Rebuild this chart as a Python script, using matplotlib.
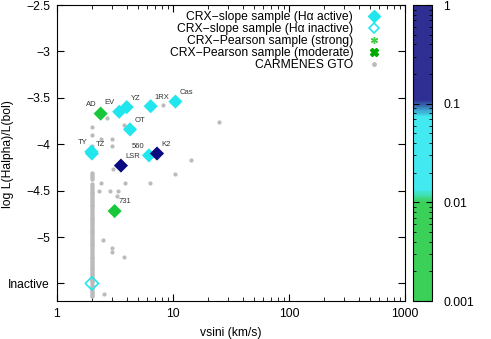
import numpy as np
import matplotlib
matplotlib.use('Agg')
import matplotlib.pyplot as plt
from matplotlib.colors import LinearSegmentedColormap, LogNorm
from matplotlib.lines import Line2D
from matplotlib.cm import ScalarMappable

plt.rcParams['font.family'] = ['Liberation Sans', 'DejaVu Sans']
plt.rcParams['font.size'] = 8.7

# CRX sample stars (active)
star_names = ['AD', 'EV', 'YZ', '1RX', 'Cas', 'OT', 'TY', 'TZ', '560', 'K2', 'LSR', '731']
star_vsini = [2.38, 3.44, 3.99, 6.42, 10.5, 4.26, 1.98, 2.0, 6.21, 7.28, 3.56, 3.14]
star_logha = [-3.67, -3.65, -3.60, -3.59, -3.54, -3.84, -4.08, -4.10, -4.12, -4.10, -4.23, -4.72]
star_crx_ratio = [0.004, 0.03, 0.03, 0.03, 0.03, 0.03, 0.03, 0.03, 0.03, 0.3, 0.3, 0.004]
label_side = ['l', 'l', 'r', 'r', 'r', 'r', 'l', 'r', 'l', 'r', 'r', 'r']

# inactive CRX-slope star
inactive_vsini = [2.0]
inactive_logha = [-5.5]

# CARMENES GTO background sample
gto_vsini = [2.68, 8.15, 2.0, 2.0, 2.38, 2.96, 2.96, 3.76, 2.0, 14.2, 10.4, 3.06,
             2.38, 3.86, 6.34, 2.30, 2.86, 3.37, 3.27, 2.48, 2.96, 2.96, 3.78,
             2.56, 25.1]
gto_logha = [-3.72, -3.58, -3.81, -3.90, -3.94, -3.94, -4.02, -3.79, -4.02, -4.17,
             -4.32, -4.27, -4.42, -4.42, -4.42, -4.50, -4.50, -4.50, -4.56, -5.03,
             -5.12, -5.16, -5.21, -5.61, -3.76]
# stars at the vsini detection limit
limit_logha = [-4.31, -4.33, -4.35, -4.37, -4.43, -4.45, -4.47, -4.49, -4.51, -4.53,
               -4.55, -4.57, -4.59, -4.61, -4.63, -4.65, -4.67, -4.69, -4.71, -4.73,
               -4.75, -4.77, -4.79, -4.81, -4.83, -4.85, -4.87, -4.89, -4.91, -4.93,
               -4.95, -4.97, -4.99, -5.01, -5.03, -5.05, -5.07, -5.09, -5.11, -5.13,
               -5.15, -5.17, -5.19, -5.21, -5.23, -5.25, -5.27, -5.29, -5.31, -5.33,
               -5.35, -5.37, -5.39, -5.41, -5.43, -5.45, -5.47, -5.49, -5.52, -5.54,
               -5.56, -5.58, -5.60, -5.62, -5.64]
limit_vsini = [2.0] * len(limit_logha)

cb_ticks = [0.001, 0.01, 0.1, 1]

navy = '#0a0a80'
cyan = '#22e6ee'
green = '#18c83a'
cmap = LinearSegmentedColormap.from_list('crx', [
    (0.0, green), (0.333, green), (0.377, cyan), (0.623, cyan), (0.68, navy), (1.0, navy)])
norm = LogNorm(vmin=0.001, vmax=1)

fig = plt.figure(figsize=(4.91, 3.39), dpi=100)
ax = fig.add_axes([0.116, 0.112, 0.709, 0.873])
cax = fig.add_axes([0.841, 0.112, 0.039, 0.873])

ax.scatter(gto_vsini, gto_logha, s=9, c='#bbbbbb', linewidths=0, zorder=2)
ax.scatter(limit_vsini, limit_logha, s=10, c='#bbbbbb', linewidths=0, zorder=2)
ax.scatter(star_vsini, star_logha, s=52, marker='D', c=star_crx_ratio,
           cmap=cmap, norm=norm, linewidths=0, zorder=3)
ax.scatter(inactive_vsini, inactive_logha, s=45, marker='D', facecolors='none',
           edgecolors=cyan, linewidths=1.2, zorder=3)

for name, v, y, side in zip(star_names, star_vsini, star_logha, label_side):
    if side == 'l':
        ax.annotate(name, (v, y), xytext=(-3, 4), textcoords='offset points',
                    ha='right', va='bottom', fontsize=5.5, color='#333333')
    else:
        ax.annotate(name, (v, y), xytext=(3, 4), textcoords='offset points',
                    ha='left', va='bottom', fontsize=5.5, color='#333333')

ax.set_xscale('log')
ax.set_xlim(1, 1000)
ax.set_ylim(-5.69, -2.5)
ax.set_xticks([1, 10, 100, 1000])
ax.set_xticklabels(['1', '10', '100', '1000'])
ax.set_yticks([-2.5, -3, -3.5, -4, -4.5, -5, -5.5])
ax.set_yticklabels(['\u22122.5', '\u22123', '\u22123.5', '\u22124', '\u22124.5', '\u22125', 'Inactive'])
ax.tick_params(which='both', direction='in', top=True, right=True)
ax.tick_params(which='major', length=5, pad=5)
ax.tick_params(which='minor', length=3)
ax.set_xlabel('vsini (km/s)', labelpad=5)
ax.set_ylabel('log L(Halpha)/L(bol)')
ax.yaxis.set_label_coords(-0.124, 0.497)

handles = [
    Line2D([], [], ls='none', marker='D', ms=6.5, mfc=cyan, mec=cyan),
    Line2D([], [], ls='none', marker='D', ms=5.5, mfc='none', mec=cyan, mew=1.2),
    Line2D([], [], ls='none', marker=(6, 2, 0), ms=5, mec='#44cc44', mew=1.0),
    Line2D([], [], ls='none', marker='X', ms=5.5, mfc='#00aa00', mec='#00aa00'),
    Line2D([], [], ls='none', marker='o', ms=2.5, mfc='#bbbbbb', mec='#bbbbbb'),
]
labels = ['CRX\u2212slope sample (H\u03b1 active)', 'CRX\u2212slope sample (H\u03b1 inactive)',
          'CRX\u2212Pearson sample (strong)', 'CRX\u2212Pearson sample (moderate)',
          'CARMENES GTO']
ax.legend(handles, labels, loc='upper right', bbox_to_anchor=(0.955, 1.013),
          frameon=False, markerfirst=False, handlelength=1.0, handletextpad=1.2,
          labelspacing=0.0, borderpad=0.3, fontsize=8.7)

sm = ScalarMappable(norm=norm, cmap=cmap)
cb = fig.colorbar(sm, cax=cax)
cb.solids.set_alpha(0.85)
cb.set_ticks(cb_ticks)
cb.set_ticklabels(['0.001', '0.01', '0.1', '1'])
cax.tick_params(which='both', direction='in', left=True, right=True)
cax.tick_params(which='major', length=4, pad=8)
cax.tick_params(which='minor', length=2)
cb.set_label('CRX length / vsini', labelpad=14)

fig.savefig('out.png', dpi=100)
